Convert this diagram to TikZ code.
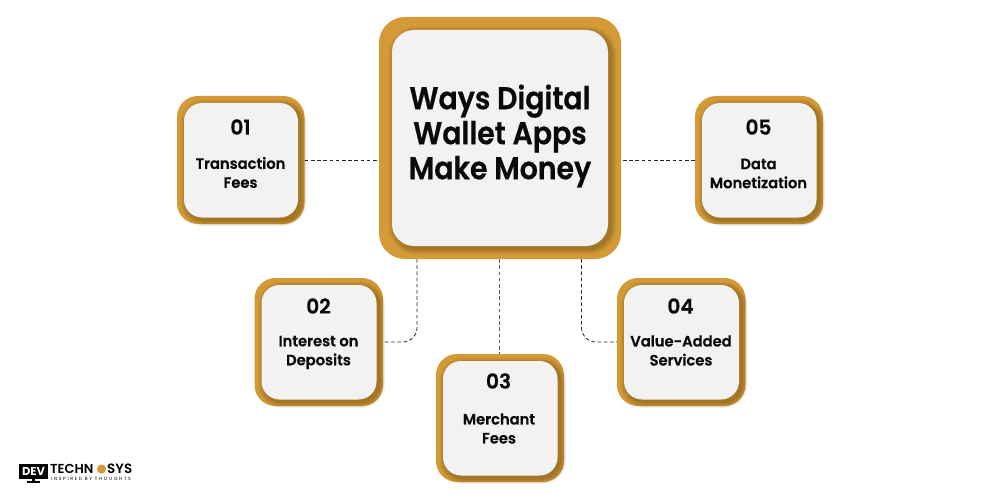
\documentclass[tikz,border=0pt]{standalone}
\usepackage{fontspec}
\setmainfont{Poppins}
\newfontfamily\boldsf{Poppins SemiBold}[FakeStretch=0.90,FakeBold=0.6]
\newfontfamily\labelfont{Poppins SemiBold}[FakeStretch=0.98,FakeBold=0.5]
\newfontfamily\logofont{Poppins SemiBold}
\newfontfamily\tagfont{Poppins}[LetterSpace=36]
\usetikzlibrary{calc}
\definecolor{goldc}{HTML}{D39A37}
\definecolor{goldd}{HTML}{86601F}
\definecolor{innerc}{HTML}{F2F2F2}
\definecolor{inkc}{HTML}{0A0A0A}
\tikzset{
  x=1pt,y=-1pt,
  outerbox/.style={fill=goldc,draw=none,rounded corners=#1,anchor=center},
  conn/.style={draw=black!85,line width=0.8pt,dash pattern=on 3.6pt off 2.6pt},
  numt/.style={font=\fontsize{20.5}{22}\labelfont,text=inkc,inner sep=0pt},
  labt/.style={font=\fontsize{15}{19}\labelfont,text=inkc,align=center,inner sep=0pt},
}
\newcommand{\softshadow}[5]{% x1 y1 x2 y2 r
  \foreach \d/\o in {6/0.09,5/0.11,4/0.13,3/0.15,2/0.17,1/0.20}{
    \fill[goldd,opacity=\o,rounded corners=#5+\d] (#1-\d+2.5,#2-\d+2.5) rectangle (#3+\d+2.5,#4+\d+2.5);
  }
}
\newcommand{\wbox}[5]{% name x1 y1 x2 y2
  \node[outerbox=21pt,minimum width=#4-#2,minimum height=#5-#3,inner sep=0pt] (#1) at ({(#2+#4)/2},{(#3+#5)/2}) {};
  \softshadow{#2+7}{#3+7}{#4-6.5}{#5-6.5}{18pt}
  \fill[innerc,rounded corners=18pt] (#2+7,#3+7) rectangle (#4-6.5,#5-6.5);
}
\begin{document}
\begin{tikzpicture}
\useasboundingbox (0,0) rectangle (1000,500);
\fill[white] (0,0) rectangle (1000,500);
% main box
\node[outerbox=26pt,minimum width=242pt,minimum height=242pt,inner sep=0pt] (main) at (500,138) {};
\softshadow{392}{30}{608}{246}{22pt}
\fill[innerc,rounded corners=22pt] (392,30) rectangle (608,246);
\node[font=\fontsize{31.5}{35}\boldsf,text=inkc,align=center,inner sep=0pt] (title) at (500,136) {Ways Digital\\Wallet Apps\\Make Money};
% side boxes
\wbox{b1}{177}{96}{304.5}{224}
\wbox{b2}{254.5}{278}{383}{406}
\wbox{b3}{436}{354}{564}{482}
\wbox{b4}{617}{278}{745.5}{406}
\wbox{b5}{695}{96}{823}{224}
\node[numt] (n1) at (240.5,127) {01};
\node[numt] (n2) at (318.5,306) {02};
\node[numt] (n3) at (498.5,381) {03};
\node[numt] (n4) at (680.5,306) {04};
\node[numt] (n5) at (758.5,127) {05};
\node[labt] (l1) at (240.5,172.5) {Transaction\\Fees};
\node[labt] (l2) at (318.5,352.5) {Interest on\\Deposits};
\node[labt] (l3) at (499,428.5) {Merchant\\Fees};
\node[labt] (l4) at (681,350.5) {Value-Added\\Services};
\node[labt] (l5) at (758.5,173.5) {Data\\Monetization};
% connectors
\coordinate (c2a) at (417,259);
\coordinate (c4a) at (581.5,259);
\draw[conn] (b1.east) -- (b1.east -| main.west);
\draw[conn] (b5.west) -- (b5.west -| main.east);
\draw[conn,draw=black!65] (main.south) ++(-1,0) -- (b3.north -| 499,0);
\draw[conn,rounded corners=14pt] (c2a) -- (c2a |- b2.east) -- (b2.east);
\draw[conn,rounded corners=14pt] (c4a) -- (c4a |- b4.west) -- (b4.west);
% logo
\fill[black] (19,464) rectangle (48,479);
\fill[black] (27,481) rectangle (40,483);
\fill[black] (32,479) rectangle (35,482);
\node[font=\fontsize{11.5}{12}\selectfont\bfseries,text=white,inner sep=0pt] (ld) at (33.5,471.5) {DEV};
\node[font=\fontsize{13}{14}\logofont,text=black,inner sep=0pt,anchor=west] (lt) at (50,469) {TECHN};
\fill[goldc] (101.5,469) circle (4.6pt);
\node[font=\fontsize{13.5}{14}\logofont,text=black,inner sep=0pt,anchor=west] (ls) at (107,469) {SYS};
\node[font=\fontsize{4.6}{5}\tagfont,text=black,inner sep=0pt,anchor=west] (li) at (51,479) {INSPIRED BY THOUGHTS};
\end{tikzpicture}
\end{document}
